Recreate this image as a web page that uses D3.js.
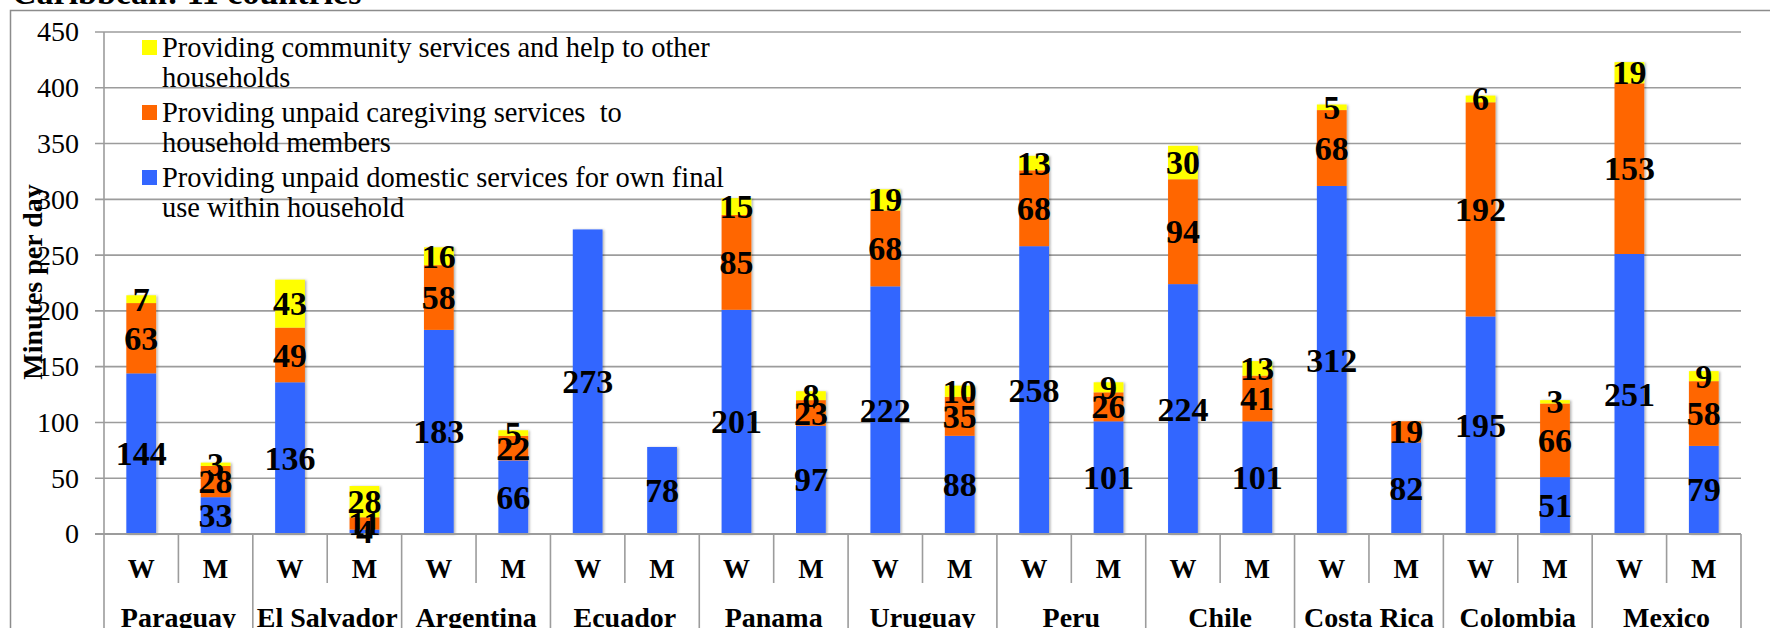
<!DOCTYPE html>
<html><head><meta charset="utf-8">
<script src="https://cdn.jsdelivr.net/npm/d3@7"></script>
<style>body{margin:0;background:#fff}svg{display:block}</style>
</head><body>
<script>
const countries = ["Paraguay","El Salvador","Argentina","Ecuador","Panama","Uruguay","Peru","Chile","Costa Rica","Colombia","Mexico"];
const sexes = ["W","M"];
// order: country1 W, country1 M, country2 W, ...
const domestic   = [144,33, 136,4, 183,66, 273,78, 201,97, 222,88, 258,101, 224,101, 312,82, 195,51, 251,79];
const caregiving = [63,28,  49,11, 58,22,  0,0,    85,23,  68,35,  68,26,   94,41,   68,19,  192,66, 153,58];
const community  = [7,3,    43,28, 16,5,   0,0,    15,8,   19,10,  13,9,    30,13,   5,0,    6,3,    19,9];
const yTicks = [0,50,100,150,200,250,300,350,400,450];
const seriesKeys = ["domestic","caregiving","community"];
const seriesColors = ["#3366FF","#FF6600","#FFFF00"];
const legendLines = [
  ["Providing community services and help to other","households"],
  ["Providing unpaid caregiving services  to","household members"],
  ["Providing unpaid domestic services for own final","use within household"]
];
const legendColors = ["#FFFF00","#FF6600","#3366FF"];
const yTitle = "Minutes per day";
const titleText = "Caribbean: 11 countries";

const W = 1770, H = 628;
const serif = "'Liberation Serif','Times New Roman',serif";
const svg = d3.select("body").append("svg").attr("width", W).attr("height", H);

const defs = svg.append("defs");
const f = defs.append("filter").attr("id","sh").attr("x","-20%").attr("y","-5%").attr("width","150%").attr("height","110%");
f.append("feDropShadow").attr("dx",1.5).attr("dy",0.5).attr("stdDeviation",1.2).attr("flood-color","#000").attr("flood-opacity",0.3);

// frame
svg.append("rect").attr("x",10.5).attr("y",10.5).attr("width",1800).attr("height",700)
  .attr("fill","none").attr("stroke","#8c8c8c").attr("stroke-width",1.5);

// title (partly cut off at top)
svg.append("text").attr("x",12).attr("y",4).attr("font-family",serif).attr("font-weight","bold")
  .attr("font-size",34).attr("fill","#000").text(titleText);

const keys = countries.flatMap(c => sexes.map(s => c + "|" + s));
const rows = keys.map((k,i) => ({key:k, sex:k.split("|")[1], domestic:domestic[i], caregiving:caregiving[i], community:community[i]}));

const x0 = 104, x1 = 1741;
const x = d3.scaleBand().domain(keys).range([x0, x1]).paddingInner(0.6).paddingOuter(0.3);
const y = d3.scaleLinear().domain([0,450]).range([534, 32]);

// gridlines
svg.append("g").selectAll("line").data(yTicks.filter(t => t>0)).join("line")
  .attr("x1",95).attr("x2",x1).attr("y1",d=>y(d)).attr("y2",d=>y(d))
  .attr("stroke","#9c9c9c").attr("stroke-width",1.6);

// y axis labels via d3 axis
const yAxis = svg.append("g").attr("transform",`translate(${x0},0)`)
  .call(d3.axisLeft(y).tickValues(yTicks).tickSize(0).tickPadding(25));
yAxis.select(".domain").remove();
yAxis.selectAll("text").attr("font-family",serif).attr("font-size",28).attr("fill","#000");

// y axis line
svg.append("line").attr("x1",x0).attr("x2",x0).attr("y1",y(450)).attr("y2",y(0))
  .attr("stroke","#9c9c9c").attr("stroke-width",1.6);

// stacked bars
const stack = d3.stack().keys(seriesKeys)(rows);
const gBars = svg.append("g").attr("filter","url(#sh)");
stack.forEach((layer, li) => {
  gBars.append("g").attr("fill", seriesColors[li]).selectAll("rect").data(layer.filter(d => d[1]-d[0] > 0)).join("rect")
    .attr("x", d => x(d.data.key)).attr("width", x.bandwidth())
    .attr("y", d => y(d[1])).attr("height", d => y(d[0]) - y(d[1]));
});

// x axis line & separators
svg.append("line").attr("x1",95).attr("x2",x1).attr("y1",y(0)).attr("y2",y(0))
  .attr("stroke","#9c9c9c").attr("stroke-width",1.8);
const step = x.step();
const bounds = keys.map((k,i) => ({pos: x(k) - x.paddingInner()*step/2, major: i % 2 === 0}));
bounds.push({pos: x1, major: true});
svg.append("g").selectAll("line").data(bounds).join("line")
  .attr("x1",d=>d.pos).attr("x2",d=>d.pos).attr("y1",y(0)).attr("y2",d=>d.major?640:583)
  .attr("stroke","#9c9c9c").attr("stroke-width",1.6);

// W / M labels
svg.append("g").selectAll("text").data(rows).join("text")
  .attr("x", d => x(d.key) + x.bandwidth()/2).attr("y", 577.5)
  .attr("text-anchor","middle").attr("font-family",serif).attr("font-weight","bold")
  .attr("font-size",27).attr("fill","#000").text(d => d.sex);

// country labels
svg.append("g").selectAll("text").data(countries).join("text")
  .attr("x", c => (x(c+"|W") + x(c+"|M") + x.bandwidth())/2).attr("y", 627)
  .attr("text-anchor","middle").attr("font-family",serif).attr("font-weight","bold")
  .attr("font-size",28).attr("fill","#000").text(c => c);

// data labels
const gLab = svg.append("g");
stack.forEach(layer => {
  gLab.append("g").selectAll("text").data(layer.filter(d => d[1]-d[0] > 0)).join("text")
    .attr("x", d => x(d.data.key) + x.bandwidth()/2)
    .attr("y", d => y((d[0]+d[1])/2)).attr("dy","0.34em")
    .attr("text-anchor","middle").attr("font-family",serif).attr("font-weight","bold")
    .attr("font-size",34).attr("fill","#000").text(d => d[1]-d[0]);
});

// y title
svg.append("text").attr("transform","translate(42,282) rotate(-90)")
  .attr("text-anchor","middle").attr("font-family",serif).attr("font-weight","bold")
  .attr("font-size",28).attr("fill","#000").text(yTitle);

// legend
const lg = svg.append("g");
legendLines.forEach((lines, i) => {
  const cy = 47.5 + i*65;
  lg.append("rect").attr("x",142).attr("y",cy-7.5).attr("width",15).attr("height",15).attr("fill",legendColors[i]);
  lines.forEach((t, j) => {
    lg.append("text").attr("x",162).attr("y",cy + j*30).attr("dy","0.33em")
      .attr("font-family",serif).attr("font-size",28.5).attr("fill","#000")
      .style("white-space","pre").text(t);
  });
});
</script>
</body></html>
